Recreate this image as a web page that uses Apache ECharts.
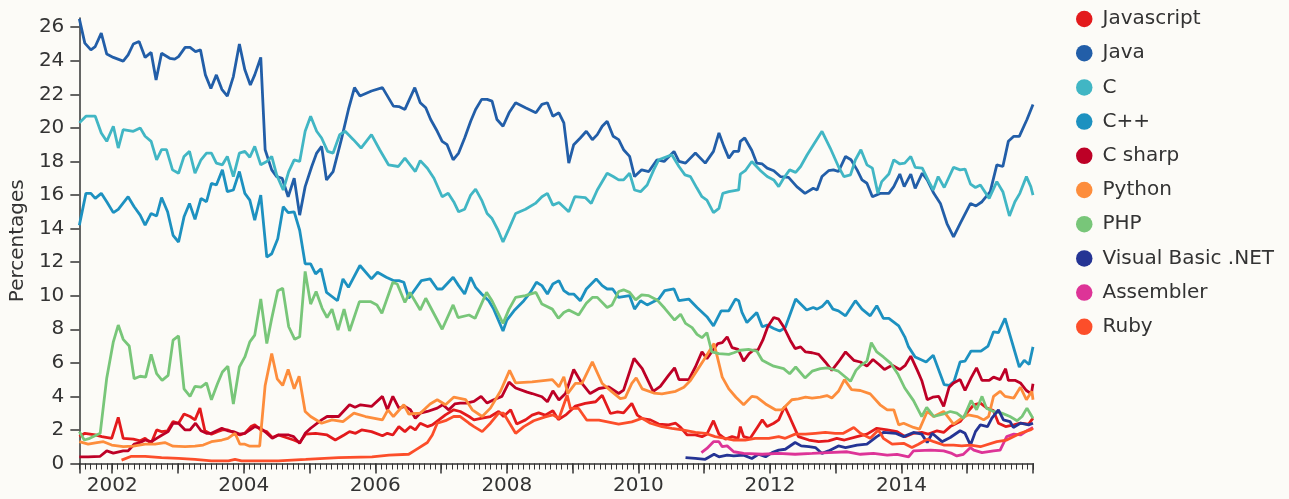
<!DOCTYPE html>
<html>
<head>
<meta charset="utf-8">
<script src="https://cdn.jsdelivr.net/npm/echarts@6/dist/echarts.min.js"></script>
<style>
html,body{margin:0;padding:0;background:#fcfbf7;}
#chart{width:1289px;height:499px;}
</style>
</head>
<body>
<div id="chart"></div>
<script>
// x values: months since July 2001 (0 = 2001-07), y values: percentages
const START_YEAR = 2001.5;
const END_YEAR = 2016;
const X_LABELS = [2002, 2004, 2006, 2008, 2010, 2012, 2014];
const YEAR_TICKS = [2001.5, 2002, 2003, 2004, 2005, 2006, 2007, 2008, 2009, 2010, 2011, 2012, 2013, 2014, 2015, 2016];
const Y_TICKS = [0, 2, 4, 6, 8, 10, 12, 14, 16, 18, 20, 22, 24, 26];

const NAMES = ['Javascript', 'Java', 'C', 'C++', 'C sharp', 'Python', 'PHP', 'Visual Basic .NET', 'Assembler', 'Ruby'];
const COLORS = ['#e31a1c', '#225ea8', '#41b6c4', '#1d91c0', '#bd0026', '#fd8d3c', '#78c679', '#253494', '#dd3497', '#fc4e2a'];

const JAVASCRIPT = [[0,1.6],[1.0,1.8],[2.9,1.7],[4.1,1.6],[5.9,1.5],[7.1,2.75],[8.0,1.5],[9.85,1.45],[11.1,1.35],[12.0,1.5],[13.1,1.2],[14.1,2.0],[15.0,1.9],[16.1,1.95],[17.1,2.5],[18.1,2.4],[19.1,2.95],[20.2,2.8],[21.1,2.6],[22.0,3.3],[22.9,1.95],[24.1,1.75],[25.2,1.9],[26.1,2.0],[27.1,2.0],[28.4,1.8],[29.3,1.7],[30.2,1.8],[31.3,2.2],[32.0,2.3],[33.1,2.0],[34.2,1.9],[35.2,1.55],[36.3,1.7],[39.1,1.4],[40.2,1.25],[41.3,1.75],[43.1,1.8],[45.2,1.7],[46.7,1.4],[48.3,1.7],[49.3,1.9],[50.4,1.8],[51.5,2.0],[53.3,1.9],[55.3,1.65],[56.2,1.8],[57.2,1.7],[58.3,2.2],[59.4,1.9],[60.4,2.2],[61.3,2.0],[62.2,2.4],[63.5,2.2],[64.4,2.3],[65.6,2.6],[66.8,2.9],[68.3,3.2],[69.5,3.1],[71.1,2.8],[72.0,2.6],[73.5,2.7],[75.0,2.8],[76.5,3.1],[77.4,2.8],[78.7,3.2],[79.8,2.35],[81.4,2.6],[82.6,2.88],[83.8,3.02],[85.0,2.88],[86.4,3.14],[87.4,2.62],[88.7,2.88],[90.5,3.42],[92.3,3.58],[94.2,3.68],[95.4,4.07],[96.9,2.98],[98.2,3.08],[99.3,3.02],[100.8,3.58],[101.8,2.88],[102.7,2.68],[104.2,2.6],[105.7,2.35],[107.5,2.3],[108.8,2.4],[109.7,2.15],[110.9,1.7],[112.4,1.7],[113.6,1.6],[114.5,1.75],[115.7,2.55],[116.7,1.75],[117.9,1.45],[119.1,1.6],[120.2,1.5],[120.6,2.2],[121.2,1.6],[122.4,1.5],[123.7,2.15],[124.6,2.6],[125.5,2.2],[126.7,2.4],[127.6,2.6],[128.7,3.4],[129.7,2.7],[131.2,1.6],[133.1,1.4],[134.9,1.3],[136.7,1.35],[138.2,1.5],[139.6,1.4],[141.9,1.6],[143.7,1.75],[145.5,2.1],[147.4,2.0],[149.2,1.9],[150.7,1.6],[152.2,1.8],[153.7,1.85],[154.9,1.75],[156.5,1.95],[157.7,1.85],[158.9,2.2],[160.7,2.5],[161.9,3.0],[163.2,3.5],[164.4,3.6],[165.6,3.3],[166.8,3.15],[167.7,2.4],[169.0,2.2],[170.5,2.3],[171.7,2.4],[173.2,2.35],[174,2.7]];

const JAVA = [[0,26.5],[1.0,25.05],[2.1,24.65],[2.9,24.85],[4.0,25.65],[5.0,24.4],[6.2,24.2],[8.0,23.98],[8.9,24.35],[9.85,25.0],[10.9,25.15],[12.0,24.2],[13.1,24.5],[14.0,22.86],[15.0,24.45],[16.5,24.15],[17.4,24.1],[18.1,24.25],[19.3,24.8],[20.2,24.8],[21.2,24.55],[22.1,24.65],[23.0,23.16],[24.0,22.35],[25.0,23.16],[26.0,22.3],[27.0,21.9],[28.1,23.06],[29.2,25.0],[30.2,23.46],[31.2,22.56],[32.0,23.16],[33.1,24.2],[33.9,18.7],[35.1,17.5],[36.0,17.1],[37.0,17.0],[38.1,15.9],[39.2,17.0],[40.2,14.8],[41.2,16.5],[42.4,17.7],[43.3,18.5],[44.2,18.9],[45.1,16.9],[46.3,17.4],[47.8,19.3],[49.1,21.1],[50.2,22.4],[51.2,21.9],[53.3,22.2],[55.3,22.4],[57.3,21.3],[58.3,21.27],[59.4,21.1],[61.2,22.4],[62.2,21.5],[63.2,21.2],[64.1,20.5],[65.3,19.8],[66.2,19.2],[67.1,19.0],[68.2,18.1],[69.2,18.5],[70.3,19.4],[71.4,20.4],[72.3,21.1],[73.4,21.7],[74.4,21.7],[75.3,21.6],[76.2,20.5],[77.3,20.1],[78.4,20.9],[79.6,21.5],[81.4,21.2],[83.3,20.9],[84.4,21.4],[85.4,21.5],[86.4,20.7],[87.5,20.9],[88.4,20.3],[89.3,17.9],[90.2,19.0],[91.4,19.4],[92.5,19.8],[93.6,19.3],[94.5,19.6],[95.4,20.1],[96.3,20.4],[97.4,19.5],[98.4,19.3],[99.3,18.7],[100.4,18.3],[101.3,17.1],[102.6,17.5],[103.9,17.4],[105.4,18.1],[106.7,18.0],[108.5,18.6],[109.4,18.0],[110.6,17.9],[112.4,18.5],[114.2,17.9],[115.7,18.6],[116.7,19.7],[117.6,18.9],[118.5,18.2],[119.4,18.6],[120.3,18.6],[120.6,19.2],[121.4,19.4],[122.7,18.65],[123.6,17.9],[124.6,17.85],[125.5,17.6],[126.7,17.45],[127.9,17.1],[129.4,17.05],[130.9,16.5],[132.4,16.1],[133.9,16.4],[134.6,16.3],[135.5,17.1],[136.7,17.45],[137.6,17.5],[138.5,17.4],[139.8,18.3],[140.8,18.1],[141.9,17.5],[142.8,16.9],[143.7,16.7],[144.7,15.9],[146.1,16.1],[147.7,16.1],[148.6,16.5],[149.7,17.25],[150.5,16.5],[151.7,17.25],[152.5,16.4],[153.8,17.3],[154.7,16.9],[155.9,16.1],[157.1,15.5],[158.3,14.3],[159.5,13.5],[160.7,14.3],[162.6,15.5],[163.6,15.35],[164.7,15.6],[166.2,16.2],[167.4,17.8],[168.5,17.7],[169.5,19.2],[170.5,19.5],[171.5,19.5],[172.9,20.5],[174,21.4]];

const C_LANG = [[0,20.3],[1.2,20.7],[2.9,20.7],[4.0,19.7],[5.0,19.2],[6.2,20.1],[7.1,18.8],[8.0,19.9],[9.85,19.8],[11.1,20.0],[12.0,19.5],[13.1,19.2],[14.1,18.1],[15.0,18.7],[15.9,18.7],[17.0,17.5],[18.1,17.3],[19.1,18.3],[20.1,18.6],[21.1,17.3],[22.2,18.1],[23.2,18.5],[24.1,18.5],[25.0,17.9],[26.1,17.8],[27.0,18.3],[28.1,17.1],[29.2,18.5],[30.2,18.6],[31.1,18.25],[32.0,18.9],[33.1,17.8],[34.2,18.0],[35.1,18.3],[36.0,17.2],[37.2,16.3],[38.2,17.4],[39.2,18.1],[40.2,18.0],[41.2,19.8],[42.2,20.7],[43.3,19.8],[44.2,19.4],[45.3,18.6],[46.3,18.5],[47.5,19.6],[48.5,19.8],[50.0,19.3],[51.4,18.8],[53.3,19.6],[54.8,18.7],[56.4,17.8],[58.2,17.7],[59.4,18.2],[61.3,17.4],[62.2,18.05],[63.5,17.6],[64.7,17.0],[66.2,15.9],[67.3,16.1],[68.3,15.6],[69.2,15.0],[70.3,15.15],[71.4,16.0],[72.3,16.35],[73.4,15.7],[74.4,14.9],[75.3,14.6],[76.4,13.9],[77.3,13.2],[78.4,14.0],[79.6,14.9],[81.4,15.15],[83.2,15.5],[84.4,15.9],[85.4,16.1],[86.4,15.4],[87.5,15.55],[89.3,15.0],[90.4,15.9],[92.3,15.85],[93.4,15.5],[94.5,16.3],[96.3,17.3],[97.4,17.1],[98.4,16.9],[99.3,16.9],[100.4,17.3],[101.3,16.3],[102.4,16.2],[103.6,16.6],[104.8,17.5],[105.7,18.1],[108.1,18.4],[109.4,17.7],[110.5,17.2],[111.5,17.1],[112.7,16.4],[113.6,15.9],[114.5,15.7],[115.7,14.95],[116.7,15.2],[117.4,16.1],[118.5,16.2],[120.3,16.3],[120.6,17.25],[121.5,17.45],[122.7,18.0],[124.3,17.45],[125.5,17.1],[126.7,16.9],[127.6,16.5],[128.5,17.0],[129.6,17.5],[130.7,17.35],[131.6,17.7],[132.8,18.4],[135.5,19.8],[137.0,18.8],[138.5,17.7],[139.5,17.1],[140.7,17.2],[141.6,18.1],[142.6,18.7],[143.7,17.8],[144.7,17.6],[145.7,16.1],[146.4,16.8],[147.7,17.25],[148.6,18.1],[149.7,17.85],[150.6,17.9],[151.7,18.3],[152.5,17.65],[153.8,17.6],[155.0,16.8],[155.8,16.3],[156.7,17.1],[157.8,16.45],[159.5,17.65],[160.7,17.5],[161.6,17.55],[162.6,16.65],[163.5,16.45],[164.4,16.6],[166.0,15.8],[167.4,16.8],[168.5,16.2],[169.7,14.75],[170.7,15.6],[171.6,16.1],[172.8,17.1],[173.6,16.5],[174,16.0]];

const CPP = [[0,14.2],[1.2,16.1],[2.1,16.1],[2.9,15.8],[4.0,16.1],[5.0,15.6],[6.2,14.95],[7.1,15.15],[8.9,15.9],[10.0,15.3],[11.1,14.8],[12.0,14.2],[13.1,14.9],[14.1,14.75],[15.0,15.85],[16.1,15.0],[17.1,13.6],[18.1,13.2],[19.1,14.7],[20.1,15.5],[21.1,14.55],[22.2,15.8],[23.2,15.6],[24.1,16.7],[25.0,16.6],[26.1,17.5],[27.0,16.2],[28.1,16.3],[29.2,17.4],[30.2,16.1],[31.1,15.7],[32.0,14.5],[33.1,16.0],[34.2,12.3],[35.1,12.5],[36.2,13.4],[37.2,15.3],[38.1,14.95],[39.2,15.0],[40.2,13.9],[41.2,11.9],[42.2,11.9],[43.1,11.3],[44.1,11.6],[45.1,10.2],[47.1,9.7],[48.1,11.0],[49.1,10.5],[51.2,11.8],[53.3,11.0],[54.4,11.4],[56.0,11.1],[57.3,10.9],[58.3,10.9],[59.2,10.8],[60.1,9.85],[61.3,10.4],[62.4,10.9],[64.0,11.0],[65.3,10.4],[66.2,10.4],[68.2,11.1],[69.2,10.6],[70.3,10.1],[71.4,11.1],[72.3,10.5],[73.4,10.1],[74.7,9.7],[75.6,9.2],[77.3,7.9],[78.0,8.55],[79.3,9.1],[81.1,9.7],[82.3,10.2],[83.4,10.8],[84.4,10.6],[85.4,10.1],[86.4,10.7],[87.5,10.9],[88.4,10.3],[89.3,10.1],[90.2,10.1],[91.4,9.7],[92.5,10.4],[94.3,11.0],[95.4,10.6],[96.3,10.4],[97.3,10.4],[98.4,9.9],[100.4,10.0],[101.3,9.2],[102.4,9.7],[103.6,9.45],[105.7,9.8],[106.8,10.3],[108.5,10.4],[109.4,9.7],[111.2,9.8],[112.7,9.3],[114.5,8.75],[115.7,8.2],[117.1,9.1],[118.5,9.1],[119.7,9.8],[120.3,9.7],[120.9,9.0],[121.8,8.4],[123.6,9.0],[124.6,8.15],[125.5,8.25],[126.7,8.05],[127.8,7.9],[128.8,8.1],[130.7,9.8],[132.7,9.15],[133.9,9.3],[134.6,9.2],[135.5,9.35],[136.5,9.7],[137.5,9.2],[138.5,9.1],[139.8,8.8],[141.6,9.7],[142.8,9.2],[144.3,8.8],[145.5,9.4],[146.7,8.65],[147.7,8.65],[149.5,8.2],[150.6,7.55],[151.3,6.95],[152.5,6.35],[154.5,6.05],[155.8,6.45],[157.8,4.7],[158.7,4.65],[159.6,4.9],[160.7,6.05],[161.6,6.1],[162.7,6.7],[164.5,6.7],[165.8,7.0],[166.8,7.85],[167.7,7.8],[168.9,8.65],[171.5,5.75],[172.4,6.15],[173.3,5.9],[174,6.95]];

const CSHARP = [[0,0.4],[1.6,0.4],[3.8,0.43],[5.0,0.75],[6.2,0.62],[8.0,0.75],[8.9,0.75],[10.0,1.15],[11.1,1.25],[12.0,1.4],[13.1,1.3],[14.1,1.5],[15.1,1.7],[16.2,1.9],[17.1,2.4],[18.1,2.4],[19.3,2.0],[20.2,2.0],[21.2,2.4],[22.2,1.95],[23.2,1.8],[24.1,1.8],[26.0,2.1],[27.1,1.95],[28.1,1.9],[29.2,1.75],[30.2,1.8],[32.0,2.2],[33.1,2.1],[34.2,1.8],[35.2,1.5],[36.3,1.7],[38.2,1.7],[39.1,1.6],[40.2,1.2],[41.2,1.8],[42.2,2.1],[44.2,2.6],[45.2,2.8],[47.3,2.8],[49.3,3.5],[50.3,3.35],[51.3,3.5],[53.3,3.4],[55.3,4.0],[56.2,3.2],[57.2,4.0],[58.3,3.3],[59.4,3.4],[60.4,3.2],[61.3,2.7],[62.2,3.0],[63.5,3.1],[65.3,3.3],[66.3,3.5],[67.4,3.2],[68.5,3.55],[69.5,3.6],[70.6,3.6],[72.0,3.7],[73.3,4.0],[74.4,3.6],[75.6,3.8],[77.1,4.0],[78.4,4.85],[79.6,4.5],[81.7,4.25],[82.6,4.17],[84.4,3.98],[85.4,3.68],[86.4,4.33],[87.5,3.78],[88.7,4.17],[90.2,5.6],[91.7,4.77],[93.2,4.17],[94.8,4.47],[96.6,4.57],[98.4,4.17],[99.3,4.37],[101.2,6.26],[102.7,5.66],[104.7,4.3],[106.0,4.6],[107.5,5.25],[108.6,5.7],[109.4,5.0],[111.2,5.0],[112.4,5.75],[113.6,6.65],[114.5,6.25],[115.6,6.75],[116.5,7.15],[117.3,7.2],[118.2,7.55],[119.1,6.9],[120.2,6.8],[121.2,6.1],[122.2,6.55],[123.0,6.75],[123.8,6.75],[124.7,7.35],[125.6,8.15],[126.7,8.7],[127.6,8.6],[128.5,8.15],[129.7,7.35],[130.6,6.85],[131.6,6.95],[132.5,6.65],[133.7,6.6],[134.9,6.5],[136.1,6.05],[137.3,5.55],[138.5,6.05],[139.8,6.65],[141.3,6.15],[142.5,6.05],[143.7,5.8],[144.8,6.2],[145.9,5.9],[146.9,5.6],[148.3,5.85],[149.7,5.6],[150.7,5.85],[151.7,6.4],[152.9,5.55],[153.7,4.95],[154.7,3.8],[155.7,3.95],[156.8,4.0],[157.7,3.4],[158.7,4.55],[159.5,4.8],[160.7,5.0],[161.6,4.35],[162.7,5.1],[163.7,5.7],[164.7,4.95],[166.0,4.95],[166.8,5.15],[168.0,5.0],[169.0,5.65],[169.5,4.95],[170.8,4.95],[171.7,4.8],[172.8,4.35],[173.7,4.15],[174,4.75]];

const PYTHON = [[0,1.3],[1.6,1.15],[3.2,1.25],[4.4,1.3],[5.9,1.1],[8.0,1.0],[9.85,1.03],[12.0,1.15],[13.8,1.15],[15.6,1.25],[17.1,1.03],[19.3,1.0],[21.1,1.03],[22.6,1.1],[24.1,1.3],[26.0,1.4],[27.1,1.5],[28.4,1.8],[29.3,1.15],[30.2,1.15],[31.1,1.03],[32.9,1.03],[33.9,4.65],[35.1,6.55],[36.1,5.05],[37.1,4.65],[38.1,5.6],[39.2,4.45],[40.1,5.2],[41.2,3.1],[42.2,2.8],[44.2,2.4],[46.1,2.6],[48.1,2.5],[50.1,3.0],[52.2,2.8],[55.3,2.6],[56.3,3.2],[57.3,2.8],[59.2,3.5],[60.1,2.95],[62.2,3.0],[64.0,3.55],[65.3,3.8],[66.8,3.5],[68.3,3.95],[70.5,3.8],[71.7,3.2],[73.5,2.8],[75.0,3.3],[76.9,4.35],[78.5,5.55],[79.6,4.8],[82.6,4.87],[86.3,5.0],[87.5,4.57],[88.4,5.17],[89.1,4.17],[90.5,4.77],[91.7,4.77],[93.6,6.06],[95.4,4.77],[97.2,4.27],[98.7,3.87],[99.6,3.93],[100.8,4.77],[101.6,5.1],[102.7,4.45],[104.8,4.2],[106.3,4.15],[108.8,4.3],[110.3,4.55],[111.5,4.95],[112.7,5.55],[113.9,6.15],[115.8,7.15],[116.4,6.35],[117.3,5.15],[118.5,4.45],[119.8,3.95],[121.2,3.5],[122.7,4.0],[123.6,3.95],[125.2,3.55],[127.0,3.2],[128.2,3.2],[129.1,3.5],[130.0,3.8],[131.2,3.85],[132.5,3.95],[133.7,3.9],[135.2,3.95],[136.4,4.05],[137.3,3.9],[138.5,4.3],[139.6,5.0],[140.9,4.4],[142.5,4.35],[144.3,4.15],[146.1,3.5],[147.4,3.2],[148.6,3.2],[149.5,2.3],[150.4,2.4],[152.2,2.15],[153.3,2.05],[154.7,3.1],[155.9,2.8],[157.7,3.1],[159.5,2.35],[161.0,2.7],[162.2,2.9],[163.8,2.8],[165.0,2.6],[165.9,2.8],[166.8,4.0],[168.0,4.3],[168.9,4.0],[170.5,3.9],[171.7,4.55],[172.8,3.8],[173.8,4.3],[174,3.8]];

const PHP = [[0,1.9],[0.9,1.4],[1.9,1.5],[3.8,1.8],[5.0,5.1],[6.2,7.25],[7.1,8.25],[8.0,7.4],[9.1,7.0],[10.0,5.05],[11.1,5.2],[12.1,5.15],[13.1,6.5],[14.1,5.35],[15.1,4.95],[16.2,5.25],[17.1,7.35],[18.1,7.6],[19.1,4.45],[20.2,4.0],[21.1,4.6],[22.2,4.55],[23.2,4.8],[24.1,3.8],[25.2,4.75],[26.1,5.45],[27.1,5.8],[28.1,3.55],[29.2,5.75],[30.2,6.35],[31.1,7.25],[32.0,7.65],[33.1,9.8],[34.2,7.15],[35.1,8.65],[36.2,10.3],[37.1,10.45],[38.2,8.15],[39.3,7.4],[40.2,7.55],[41.2,11.45],[42.2,9.5],[43.2,10.25],[44.3,9.25],[45.2,8.7],[46.1,9.2],[47.2,7.95],[48.3,9.2],[49.3,7.9],[51.1,9.65],[53.1,9.65],[54.3,9.45],[55.2,8.95],[57.2,10.8],[58.0,10.7],[59.4,9.6],[60.3,10.2],[62.2,9.15],[63.2,9.85],[66.2,8.0],[68.2,9.45],[69.1,8.7],[71.1,8.85],[72.2,8.65],[74.3,10.2],[75.3,9.7],[77.3,8.35],[78.4,9.2],[79.6,9.9],[81.4,10.0],[83.3,10.2],[84.4,9.5],[86.3,9.2],[87.4,8.65],[88.4,9.0],[89.3,9.15],[91.1,8.85],[92.5,9.55],[93.6,9.9],[94.5,9.9],[96.3,9.3],[97.2,9.45],[98.4,10.25],[99.3,10.35],[100.4,10.2],[101.5,9.75],[102.6,10.05],[103.9,10.0],[105.4,9.75],[106.8,9.25],[108.6,8.55],[109.7,8.9],[110.6,8.35],[111.8,8.1],[112.7,7.7],[113.6,7.5],[114.5,7.8],[115.4,6.65],[116.7,6.55],[118.5,6.5],[119.4,6.6],[120.6,6.75],[122.1,6.8],[123.6,6.7],[124.6,6.15],[125.8,5.95],[126.7,5.8],[128.5,5.65],[129.6,5.35],[130.7,5.75],[132.4,5.1],[133.7,5.5],[135.2,5.65],[136.5,5.7],[137.5,5.6],[138.5,5.5],[139.6,5.2],[140.7,4.9],[141.7,5.55],[142.6,5.85],[143.7,6.1],[144.5,7.2],[145.5,6.65],[146.7,6.35],[148.1,5.95],[149.4,5.3],[150.6,4.5],[152.2,3.75],[153.7,2.8],[154.6,3.35],[155.9,2.8],[157.7,2.95],[158.9,3.1],[160.1,3.0],[161.3,2.7],[162.7,3.75],[163.7,3.2],[164.7,4.0],[165.5,3.3],[166.8,3.1],[168.3,3.0],[169.8,2.8],[171.1,2.55],[172.0,2.8],[172.9,3.3],[173.8,2.8],[174,2.7]];

const VBNET = [[110.6,0.35],[112.4,0.3],[114.2,0.25],[115.8,0.55],[116.7,0.4],[118.2,0.5],[119.4,0.45],[121.2,0.5],[122.7,0.3],[123.9,0.55],[125.2,0.4],[126.4,0.65],[127.6,0.8],[128.8,0.85],[130.6,1.25],[131.7,1.05],[133.1,1.0],[134.3,0.95],[135.5,0.6],[136.7,0.75],[138.5,1.05],[139.8,0.95],[141.9,1.1],[143.7,1.15],[145.5,1.6],[146.7,1.85],[148.9,1.8],[150.4,1.6],[152.2,1.85],[153.7,1.75],[154.7,1.25],[155.6,1.8],[157.4,1.3],[158.9,1.55],[160.7,1.95],[161.6,1.8],[162.6,1.1],[163.5,1.9],[164.4,2.3],[165.7,2.2],[166.5,2.7],[167.7,3.2],[168.6,2.6],[169.8,2.5],[170.4,2.15],[171.7,2.4],[173.2,2.3],[174,2.4]];

const ASSEMBLER = [[113.5,0.65],[114.5,0.9],[115.7,1.3],[116.7,1.3],[117.3,1.0],[118.2,1.05],[119.4,0.7],[121.2,0.6],[124.6,0.55],[127.6,0.6],[130.6,0.55],[133.7,0.6],[136.7,0.65],[140.1,0.7],[142.5,0.55],[144.9,0.6],[147.4,0.5],[149.2,0.55],[151.3,0.4],[152.2,0.75],[155.3,0.8],[157.7,0.75],[159.2,0.6],[160.1,0.45],[161.3,0.55],[162.6,0.95],[163.2,0.8],[164.7,0.65],[166.8,0.75],[168.0,0.8],[169.2,1.6],[170.5,1.75],[171.7,1.7],[172.9,1.95],[174,2.15]];

const RUBY = [[7.7,0.2],[9.5,0.43],[12.0,0.43],[15.0,0.35],[18.1,0.3],[21.1,0.24],[24.1,0.16],[27.2,0.16],[28.4,0.24],[29.6,0.16],[36.3,0.16],[41.3,0.24],[47.3,0.35],[53.4,0.4],[56.5,0.5],[60.1,0.55],[61.3,0.8],[63.5,1.25],[64.4,1.7],[65.3,2.4],[66.8,2.55],[68.3,2.8],[69.5,2.8],[71.1,2.4],[72.0,2.2],[73.5,1.9],[75.0,2.4],[76.5,3.0],[77.4,3.0],[79.6,1.8],[81.1,2.2],[82.9,2.55],[85.0,2.78],[86.4,2.9],[87.5,2.68],[89.0,4.07],[89.6,3.28],[91.1,3.28],[92.6,2.58],[94.8,2.58],[98.4,2.34],[100.8,2.48],[102.7,2.7],[104.2,2.4],[106.3,2.2],[108.1,2.1],[110.0,2.0],[112.4,1.85],[114.2,1.8],[116.0,1.6],[117.9,1.5],[119.4,1.4],[121.5,1.4],[123.3,1.5],[125.8,1.5],[127.6,1.6],[128.8,1.5],[130.6,1.75],[132.5,1.75],[134.3,1.8],[136.1,1.85],[137.9,1.8],[139.4,1.8],[141.3,2.15],[142.5,1.8],[144.3,1.5],[145.8,2.0],[146.7,1.5],[148.3,1.15],[150.4,1.2],[151.9,0.95],[153.1,1.15],[154.7,1.45],[155.9,1.3],[157.7,1.1],[159.5,1.1],[161.0,1.05],[162.6,1.1],[164.4,1.0],[167.4,1.3],[169.2,1.4],[171.7,1.8],[173.5,2.0],[174,2.1]];

const SERIES_DATA = [JAVASCRIPT, JAVA, C_LANG, CPP, CSHARP, PYTHON, PHP, VBNET, ASSEMBLER, RUBY];

const toXY = arr => arr.map(([m, v]) => [START_YEAR + m / 12, v]);

const FONT = 'DejaVu Sans';
const TEXT = '#333';
const AXIS = '#333';

const chart = echarts.init(document.getElementById('chart'), null, {renderer: 'canvas'});
chart.setOption({
  animation: false,
  backgroundColor: '#fcfbf7',
  color: COLORS,
  textStyle: {fontFamily: FONT},
  grid: {left: 77, right: 256, top: 18, bottom: 35.5, containLabel: false},
  legend: {
    orient: 'vertical',
    left: 1071,
    top: 4,
    icon: 'circle',
    itemWidth: 16.5,
    itemHeight: 16.5,
    itemGap: 14.2,
    selectedMode: false,
    data: NAMES,
    textStyle: {fontFamily: FONT, fontSize: 20, color: TEXT, lineHeight: 20, padding: [0, 0, 0, 5]}
  },
  xAxis: [
    {
      type: 'value',
      position: 'bottom',
      min: START_YEAR,
      max: END_YEAR,
      axisLine: {show: true, lineStyle: {color: AXIS, width: 1.5}},
      axisTick: {show: true, length: 10, customValues: YEAR_TICKS, lineStyle: {color: AXIS, width: 1.5}},
      splitLine: {show: false},
      axisLabel: {
        margin: 12,
        fontFamily: FONT,
        fontSize: 20,
        color: TEXT,
        customValues: X_LABELS,
        formatter: function (v) { return String(Math.round(v)); }
      }
    },
    {
      type: 'value',
      position: 'bottom',
      min: START_YEAR,
      max: END_YEAR,
      interval: 1 / 12,
      axisLine: {show: false},
      axisTick: {show: true, length: 6, lineStyle: {color: AXIS, width: 1}},
      axisLabel: {show: false},
      splitLine: {show: false}
    }
  ],
  yAxis: {
    type: 'value',
    min: 0,
    max: 26.55,
    interval: 2,
    name: 'Percentages',
    nameLocation: 'middle',
    nameGap: 47,
    nameTextStyle: {fontFamily: FONT, fontSize: 20, color: TEXT},
    axisLine: {show: true, lineStyle: {color: AXIS, width: 1.5}},
    axisTick: {show: true, length: 9, customValues: Y_TICKS, lineStyle: {color: AXIS, width: 1.5}},
    splitLine: {show: false},
    axisLabel: {
      margin: 15,
      fontFamily: FONT,
      fontSize: 20,
      color: TEXT,
      customValues: Y_TICKS,
      formatter: function (v) { return String(v); }
    }
  },
  series: NAMES.map((name, i) => ({
    name: name,
    type: 'line',
    xAxisIndex: 0,
    data: toXY(SERIES_DATA[i]),
    showSymbol: false,
    symbol: 'circle',
    lineStyle: {width: 2.8, color: COLORS[i]},
    itemStyle: {color: COLORS[i]},
    emphasis: {disabled: true},
    z: 2
  }))
});
</script>
</body>
</html>
